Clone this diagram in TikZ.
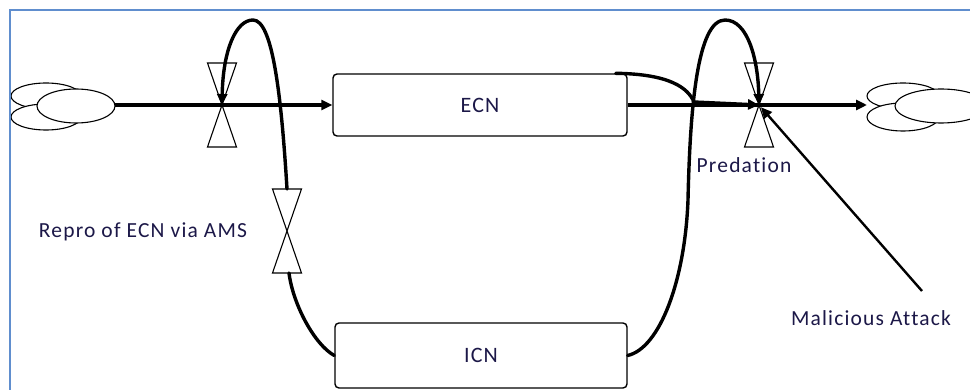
\documentclass[tikz,border=0pt]{standalone}
\usepackage{fontspec}
\setmainfont{Carlito}[LetterSpace=5.5, Ligatures={NoCommon}]
\usetikzlibrary{arrows.meta,calc}
\definecolor{labelcol}{RGB}{28,24,72}
\definecolor{framecol}{RGB}{96,142,206}

\tikzset{
  stock/.style={draw, line width=1.4pt, rounded corners=4pt, fill=white,
    font=\fontsize{22}{24}\selectfont, text=labelcol, inner sep=0pt},
  varlabel/.style={font=\fontsize{21.5}{24}\selectfont, text=labelcol, inner sep=0pt},
  tip/.style={-{Triangle[length=11pt,width=10pt]}},
  pipe/.style={line width=3.8pt},
  link/.style={line width=3.4pt, line cap=round},
  thinline/.style={line width=1.1pt},
  valve/.pic={
    \draw[thinline, fill=white] (-14.5,-42) -- (14.5,-42) -- (0,0) -- cycle
                                (-14.5,42) -- (14.5,42) -- (0,0) -- cycle;
  },
}

\begin{document}
\begin{tikzpicture}[x=1pt,y=-1pt]
  \useasboundingbox (0,0) rectangle (970,390);
  \clip (0,0) rectangle (970,390);

  % frame
  \draw[framecol, line width=1.4pt] (10,391) -- (10,10) -- (971,10);

  % clouds (source and sink)
  \begin{scope}
    \clip (11,11) rectangle (970,390);
    \draw[thinline, fill=white] (46,96) ellipse [x radius=35pt, y radius=13pt];
    \draw[thinline, fill=white] (46,117) ellipse [x radius=35pt, y radius=13pt];
    \draw[thinline, fill=white] (76,106) ellipse [x radius=39pt, y radius=17pt];
  \end{scope}
  \draw[thinline, fill=white] (903,96) ellipse [x radius=36pt, y radius=13pt];
  \draw[thinline, fill=white] (903,117) ellipse [x radius=36pt, y radius=14pt];
  \draw[thinline, fill=white] (941,106) ellipse [x radius=46pt, y radius=17pt];
  \coordinate (cloudL) at (115,105);
  \coordinate (cloudR) at (867,105);

  % stocks
  \node[stock, minimum width=294pt, minimum height=62pt] (ECN) at (480,105) {ECN};
  \node[stock, minimum width=292pt, minimum height=65pt] (ICN) at (481,355.5) {ICN};

  % valves
  \coordinate (v1) at (222,105);
  \coordinate (v2) at (287,231);
  \coordinate (v3) at (759,105);
  \pic at (v1) {valve};
  \pic at (v2) {valve};
  \pic at (v3) {valve};

  % labels
  \node[varlabel] (pred) at (744,165) {Predation};
  \node[varlabel] (repro) at (143,232) {Repro of ECN via AMS};
  \node[varlabel] (attack) at (871,318) {Malicious Attack};
  \coordinate (attackEnd) at (922,291);

  % flow pipes
  \draw[pipe, tip] (cloudL) -- (ECN.west);
  \draw[line width=3.4pt] (ECN.east) -- (v3);
  \draw[pipe, tip] (v3) -- (cloudR);

  % ICN -> reproduction loop
  \draw[link] (ICN.west) .. controls (315,345) and (293,305) .. ($(v2)+(2,42)$);
  \draw[link, tip] ($(v2)+(0,-42)$) .. controls (281,90) and (272,20) .. (253,20)
                   .. controls (236,20) and (223,50) .. (v1);

  % ICN -> predation loop
  \draw[link, tip] (ICN.east) .. controls (660,348) and (685,280) .. (688,200)
                   .. controls (690,110) and (697,20) .. (725,20)
                   .. controls (748,20) and (758,60) .. (v3);

  % ECN -> predation
  \draw[link, tip] ($(ECN.north east)+(-12,0)$) .. controls (670,74) and (688,88) .. (694,102) -- (v3);

  % malicious attack -> predation
  \draw[line width=2.4pt, tip, shorten >=3pt] (attackEnd) -- (v3);
\end{tikzpicture}
\end{document}
